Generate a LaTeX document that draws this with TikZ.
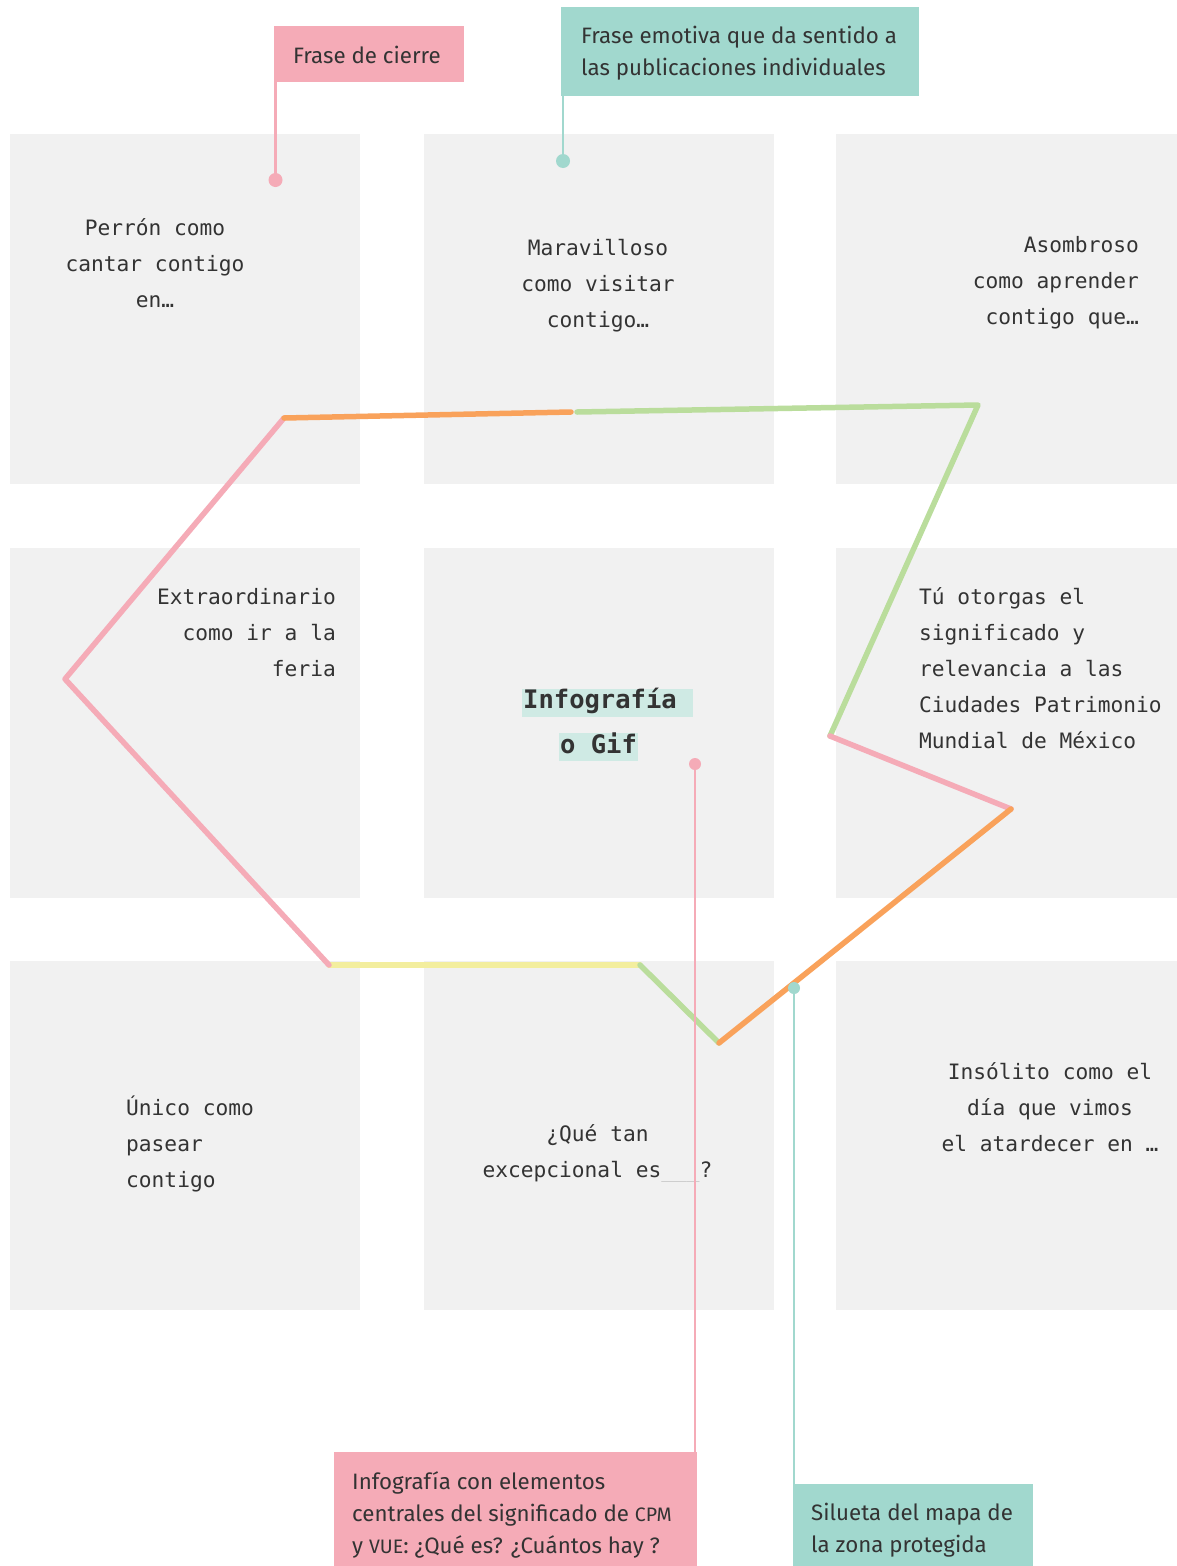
\documentclass[tikz,border=0pt]{standalone}
\usepackage{fontspec}
\setmainfont{Fira Sans}
\newfontfamily\monof{DejaVu Sans Mono}
\definecolor{cellgray}{HTML}{F1F1F1}
\definecolor{textc}{HTML}{333333}
\definecolor{pinkc}{HTML}{F5ABB7}
\definecolor{orangec}{HTML}{F9A25B}
\definecolor{greenc}{HTML}{BADD9C}
\definecolor{yellowc}{HTML}{F3EE9E}
\definecolor{tealc}{HTML}{A1D8CE}
\definecolor{hlc}{HTML}{CFEAE4}
\definecolor{blankc}{HTML}{C8C8C8}
\begin{document}
\begin{tikzpicture}[x=1pt,y=-1pt,
  cell/.style={fill=cellgray, draw=none, inner sep=0, anchor=north west, minimum height=350},
  mono/.style={font=\monof\fontsize{21.2}{36}\selectfont, text=textc, inner sep=0},
  hl/.style={fill=hlc, font=\monof\bfseries\fontsize{25.5}{30}\selectfont, text=textc, inner xsep=1, inner ysep=1, text height=19, text depth=7},
  notebox/.style={draw=none, inner sep=0, anchor=north west},
  notetext/.style={font=\fontsize{22.3}{32}\selectfont, text=textc, inner sep=0, anchor=west, align=left},
  seg/.style={line width=5.5, line cap=round, line join=round},
  callout/.style={line width=2.5},
  dotc/.style={circle, inner sep=0, minimum size=14}
]
\useasboundingbox[fill=white] (0,0) rectangle (1177,1566);

% grid cells
\node[cell, minimum width=350] (c11) at (10,134) {};
\node[cell, minimum width=350] (c12) at (424,134) {};
\node[cell, minimum width=341] (c13) at (836,134) {};
\node[cell, minimum width=350] (c21) at (10,548) {};
\node[cell, minimum width=350] (c22) at (424,548) {};
\node[cell, minimum width=341] (c23) at (836,548) {};
\node[cell, minimum width=350, minimum height=349] (c31) at (10,961) {};
\node[cell, minimum width=350, minimum height=349] (c32) at (424,961) {};
\node[cell, minimum width=341, minimum height=349] (c33) at (836,961) {};

% cell texts
\node[mono, anchor=north, align=center] (t11) at (155,210) {\strut Perrón como\\cantar contigo\\en…};
\node[mono, anchor=north, align=center] (t12) at (598,230) {\strut Maravilloso\\como visitar\\contigo…};
\node[mono, anchor=north east, align=right] (t13) at (1139,227) {\strut Asombroso\\como aprender\\contigo que…};
\node[mono, anchor=north east, align=right] (t21) at (336,579) {\strut Extraordinario\\como ir a la\\feria};
\node[mono, anchor=north west, align=left] (t23) at (919,579) {\strut Tú otorgas el\\significado y\\relevancia a las\\Ciudades Patrimonio\\Mundial de México};
\node[mono, anchor=north west, align=left] (t31) at (126,1090) {\strut Único como\\pasear\\contigo};
\node[mono, anchor=north, align=center] (t32) at (597.5,1116) {\strut ¿Qué tan\\excepcional es\textcolor{blankc}{\_\_\_}?};
\node[mono, anchor=north, align=center] (t33) at (1050,1054) {\strut Insólito como el\\día que vimos\\el atardecer en …};

% centre title
\node[hl, anchor=west] (title1) at (522,702.5) {Infografía\phantom{a}};
\node[hl] (title2) at (598.5,747) {o Gif};

% polyline
\coordinate (p1) at (329,965);
\coordinate (p2) at (65,679);
\coordinate (p3) at (284,418);
\coordinate (p4) at (571,412);
\coordinate (p4b) at (577,412);
\coordinate (p5) at (978,405);
\coordinate (p6) at (830,736);
\coordinate (p7) at (1011,809);
\coordinate (p8) at (719,1043);
\coordinate (p9) at (640,965);
\draw[seg, yellowc] (p9) -- (p1);
\draw[seg, pinkc] (p1) -- (p2) -- (p3);
\draw[seg, orangec] (p3) -- (p4);
\draw[seg, greenc] (p4b) -- (p5) -- (p6);
\draw[seg, pinkc] (p6) -- (p7);
\draw[seg, greenc] (p8) -- (p9);
\draw[seg, orangec] (p7) -- (p8);

% annotation boxes
\node[notebox, fill=pinkc, minimum width=190, minimum height=56] (n1) at (274,26) {};
\node[notetext] (n1t) at ([xshift=19,yshift=-1]n1.west) {Frase de cierre};
\node[notebox, fill=tealc, minimum width=358, minimum height=89] (n2) at (561,7) {};
\node[notetext] (n2t) at ([xshift=20,yshift=-1]n2.west) {Frase emotiva que da sentido a\\las publicaciones individuales};
\node[notebox, fill=pinkc, minimum width=363, minimum height=122] (n3) at (334,1452) {};
\node[notetext] (n3t) at (352,1515) {Infografía con elementos\\centrales del significado de {\fontsize{19.5}{32}\selectfont CPM}\\y {\fontsize{19.5}{32}\selectfont VUE}: ¿Qué es? ¿Cuántos hay ?};
\node[notebox, fill=tealc, minimum width=240, minimum height=90] (n4) at (793,1484) {};
\node[notetext] (n4t) at (811,1530) {Silueta del mapa de\\la zona protegida};

% callouts
\node[dotc, fill=pinkc] (d1) at (275.5,180) {};
\node[dotc, fill=tealc] (d2) at (563,161) {};
\node[dotc, fill=pinkc, minimum size=12] (d3) at (695,764) {};
\node[dotc, fill=tealc, minimum size=12] (d4) at (794,988) {};
\draw[callout, pinkc] (d1.center) -- (d1.center |- n1.south);
\draw[callout, tealc] (d2.center) -- (d2.center |- n2.south);
\draw[callout, pinkc] (d3.center) -- (d3.center |- n3.north);
\draw[callout, tealc] (d4.center) -- (d4.center |- n4.north);
\end{tikzpicture}
\end{document}
